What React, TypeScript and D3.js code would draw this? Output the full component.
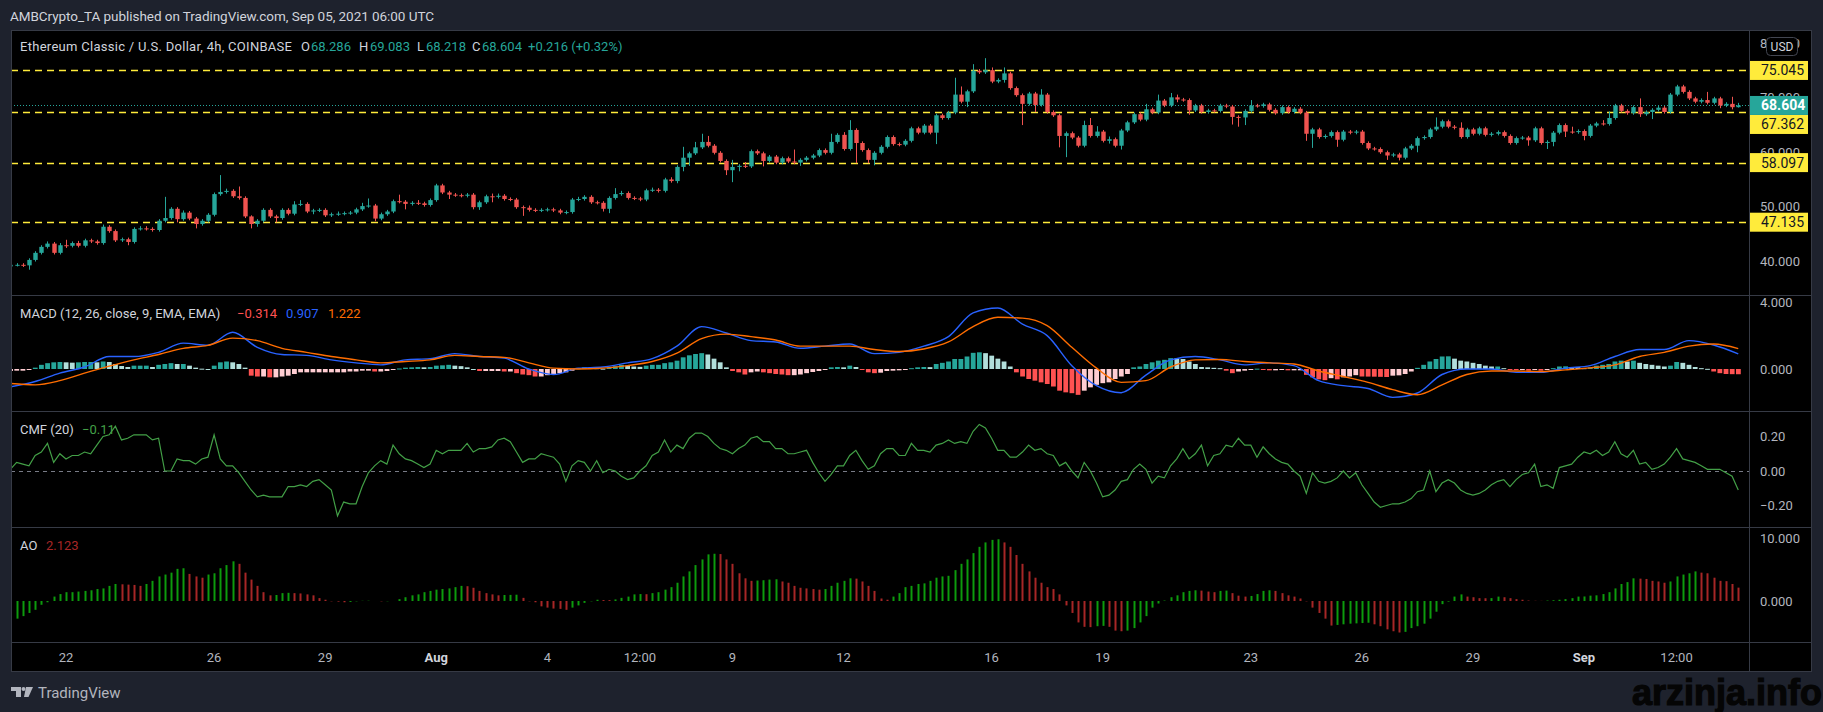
import React, { FC, useEffect, useRef } from "react"
import { select, scaleLinear, scaleUtc, line, curveMonotoneX, curveLinear } from "d3"

// ETC/USD 4h candles, first candle Jul 20 2021 12:00 UTC
const startTime = Date.UTC(2021, 6, 20, 12)
const step = 4 * 3600 * 1000
const firstOpen = 39.0

const closes = [
  39.3, 39.3, 39.2, 40.2, 41.5, 42.6, 43.2, 41.5, 42.9, 42.8,
  43.3, 42.8, 43.8, 43.6, 43.3, 46.3, 45.5, 43.8, 44.0, 43.5,
  45.9, 46.0, 45.9, 45.7, 47.4, 47.9, 49.6, 47.7, 48.9, 47.8,
  46.8, 47.4, 48.5, 52.3, 52.7, 52.9, 51.9, 51.6, 48.2, 46.8,
  47.4, 49.4, 48.2, 47.9, 49.4, 48.7, 50.4, 50.5, 49.1, 49.3,
  49.4, 48.4, 48.6, 48.7, 48.8, 48.9, 49.5, 50.1, 50.2, 47.8,
  48.6, 49.1, 51.0, 50.9, 50.5, 50.7, 50.6, 50.3, 51.2, 53.9,
  52.6, 52.2, 52.1, 52.0, 52.2, 49.9, 50.8, 51.9, 51.8, 52.0,
  51.4, 51.3, 49.9, 49.8, 49.4, 49.3, 49.4, 49.5, 49.3, 48.9,
  49.0, 51.3, 51.4, 51.8, 50.8, 50.7, 49.6, 51.6, 52.3, 52.5,
  51.6, 51.5, 51.3, 53.0, 53.1, 52.9, 55.0, 54.7, 57.3, 59.0,
  59.8, 60.9, 61.9, 61.2, 59.9, 58.4, 56.7, 57.3, 57.5, 57.4,
  60.2, 59.8, 58.4, 59.2, 58.1, 58.9, 58.3, 58.1, 58.6, 59.0,
  59.4, 60.4, 59.9, 61.9, 63.2, 60.6, 64.1, 61.7, 60.4, 58.6,
  59.9, 61.0, 62.8, 61.5, 61.4, 62.1, 64.4, 63.6, 64.9, 63.6,
  66.8, 66.3, 67.3, 70.6, 69.3, 71.2, 75.0, 74.7, 75.1, 73.0,
  73.3, 74.5, 71.8, 70.5, 68.9, 70.8, 68.7, 70.6, 67.4, 66.8,
  63.0, 63.5, 62.7, 61.2, 65.0, 63.0, 63.8, 62.1, 62.4, 61.2,
  64.0, 65.5, 67.0, 66.0, 67.9, 67.3, 69.5, 68.6, 70.1, 69.7,
  69.6, 67.7, 68.6, 67.4, 67.7, 67.6, 68.6, 68.4, 66.5, 66.4,
  67.6, 68.6, 68.5, 68.8, 67.8, 67.2, 68.3, 67.4, 68.0, 67.3,
  63.4, 64.2, 62.8, 63.0, 63.7, 62.3, 63.8, 63.6, 63.8, 61.7,
  60.7, 60.6, 60.0, 59.4, 59.6, 59.0, 60.7, 61.2, 62.6, 62.8,
  64.2, 64.7, 65.7, 64.7, 64.5, 62.8, 64.2, 63.4, 64.4, 63.2,
  63.4, 63.7, 63.0, 61.7, 62.6, 62.7, 62.2, 64.4, 61.7, 61.9,
  63.6, 65.0, 63.8, 63.7, 63.9, 63.0, 64.9, 65.3, 65.2, 66.3,
  68.6, 67.6, 67.2, 68.3, 67.0, 67.4, 67.8, 68.2, 67.4, 70.6,
  72.1, 71.1, 69.9, 69.3, 69.6, 69.1, 69.9, 68.6, 68.9, 68.286,
  68.604,
]

// wick length above the body / below the body, in USD
const upWick = [
  .3, .3, .3, .3, .3, .3, .4, .3, .4, 1.0,
  .3, .4, .3, .3, .3, .4, .3, .3, .3, .3,
  .3, .4, .4, .3, .3, 3.9, .3, .3, .4, .3,
  .3, .3, .3, .3, 3.1, .4, .3, 1.8, .3, .2,
  .3, .3, .3, .3, .3, .3, .6, .7, .3, .3,
  .3, .3, .3, .4, .3, .3, .3, .6, 1.3, .3,
  .3, .3, .3, 1.2, .3, .3, .5, .3, .3, .3,
  .3, .3, .3, .3, .3, .3, .3, .3, .5, .4,
  .3, .3, .3, .3, .4, .3, .3, .3, .3, .3,
  .3, .3, .4, .3, .3, .3, .3, .3, 1.1, .4,
  .3, .3, .3, .3, .4, .3, .3, .4, .3, 2.0,
  .3, 1.0, 1.5, 1.1, .3, .3, .3, 1.3, .3, .7,
  .3, .3, .3, .3, .3, .3, .3, 2.2, .3, .3,
  .3, .3, .3, 1.5, .3, .5, 1.8, .3, .3, .3,
  .3, .3, .3, .3, .3, .3, .3, .3, .3, .3,
  .3, .3, .3, 3.1, 1.5, .3, 1.2, .3, 2.2, .5,
  .3, 1.1, .3, .3, .3, .3, .3, 1.0, .3, .3,
  .3, .3, .3, .3, .8, 1.3, 1.0, .3, .5, .3,
  .3, .3, .3, .3, 1.0, .3, 1.1, .3, .8, .5,
  .3, .3, .3, .3, .3, .3, .3, .3, .3, .3,
  .3, 1.0, .3, .3, .3, .3, .3, .3, .3, .3,
  .3, .3, .3, .3, .3, .3, .3, .3, .3, .3,
  .3, .3, .3, .3, .3, .3, .3, .3, .3, .3,
  .3, 1.7, .3, .3, .3, 1.0, .3, .3, .3, .3,
  .3, .3, .3, .3, .3, .3, .3, .3, .3, .3,
  .3, .3, .3, .9, .3, .3, .3, .3, .6, 1.2,
  .3, .3, .3, .3, 1.6, .3, .3, .3, .3, .3,
  .3, .3, .3, .3, .3, 1.5, .3, .3, .3, 1.3,
  .48,
]

const downWick = [
  .3, .3, .3, .8, .3, .3, .3, .3, .3, .4,
  .3, .3, .3, .3, .3, .3, .3, .3, .3, .6,
  .3, .3, .3, .3, .3, .3, .3, .6, .3, .3,
  .8, .3, .3, .3, .3, .3, .3, .3, .3, .8,
  .5, .3, .3, .8, .3, .3, .3, .3, .3, .5,
  .3, .3, .3, .3, .3, .3, .3, .3, .3, .5,
  .3, .3, .3, .3, 1.0, .3, .3, .3, .3, .3,
  .3, .8, .3, .3, .3, .4, .5, .3, 1.0, .3,
  .3, .3, .3, 1.5, .3, .3, .3, .3, .3, .3,
  .3, .3, .3, .3, .3, .3, .5, .8, .3, .3,
  .3, .3, .3, .3, .3, .3, .3, .3, .4, .8,
  1.5, .3, .3, .3, .3, .3, .9, 2.2, .8, .3,
  .3, .3, 1.0, .3, .3, .3, .3, .3, .6, .3,
  .3, .3, .3, .3, .3, .3, .3, 3.7, .3, .6,
  1.0, .3, .3, .3, .3, .3, .3, .3, .3, .3,
  2.1, .3, .3, .3, .3, 1.0, .3, .3, .3, .3,
  .3, .5, .3, .3, 3.9, .3, 1.3, .3, .3, .3,
  2.1, 3.9, .3, .3, .3, .3, .3, .3, .5, .3,
  .7, .3, .3, .3, .3, .3, .3, .3, .3, .5,
  .3, .8, .3, .3, .3, .3, .3, .3, 1.4, 1.7,
  1.4, .3, .3, .3, .3, .3, .3, .3, .3, .3,
  1.3, 2.6, .3, .3, .3, 1.3, .3, .3, .3, .3,
  .3, .3, .3, .8, .3, .5, .3, .3, 1.2, .3,
  .3, .3, .3, .3, .3, .3, .3, .3, .3, .3,
  .3, .3, .3, .3, .3, .3, 1.0, .3, .3, 1.1,
  .8, .3, 1.0, .3, .3, .8, .3, .3, .3, .3,
  .3, .3, .3, .3, .5, .3, 1.3, .3, .3, .3,
  .3, .3, .3, .3, .3, .3, .3, .5, .3, .4,
  .07,
]

// MACD (12, 26, close, 9) histogram, one value per candle
const macdHist = [
  -.12, -.1, -.1, -.05, .08, .25, .35, .4, .42, .4,
  .38, .4, .42, .42, .4, .45, .42, .3, .18, .12,
  .2, .2, .2, .12, .25, .3, .35, .3, .3, .2,
  .08, .02, 0, .2, .4, .45, .4, .3, .08, -.4,
  -.45, -.45, -.5, -.5, -.45, -.4, -.3, -.2, -.2, -.2,
  -.2, -.2, -.2, -.2, -.2, -.15, -.15, -.1, -.1, -.15,
  -.15, -.12, -.05, .03, .08, .1, .12, .1, .12, .2,
  .22, .25, .2, .17, .1, 0, -.12, -.12, -.12, -.12,
  -.15, -.15, -.25, -.33, -.37, -.45, -.45, -.37, -.3, -.25,
  -.2, -.1, .05, .1, .08, .05, .02, .1, .17, .25,
  .2, .15, .13, .2, .25, .25, .35, .4, .5, .7,
  .82, .9, .95, .87, .62, .4, .1, -.12, -.2, -.33,
  -.2, -.15, -.2, -.25, -.3, -.33, -.37, -.37, -.33, -.25,
  -.18, -.12, -.05, .1, .12, .1, .2, .12, -.05, -.2,
  -.25, -.22, -.12, -.1, -.08, -.03, .05, .1, .12, .11,
  .3, .37, .45, .6, .6, .75, .97, 1.0, .95, .8,
  .62, .45, .15, -.2, -.45, -.6, -.7, -.8, -.9, -1.05,
  -1.3, -1.4, -1.45, -1.55, -1.3, -1.1, -.95, -.85, -.8, -.6,
  -.45, -.3, .1, .15, .3, .4, .5, .55, .65, .64,
  .6, .45, .3, .12, .1, .07, .05, -.1, -.25, -.15,
  -.1, -.05, .02, -.05, -.08, -.08, -.05, -.08, -.08, -.08,
  -.35, -.5, -.62, -.67, -.55, -.62, -.5, -.45, -.37, -.45,
  -.455, -.46, -.47, -.48, -.4, -.38, -.3, -.15, .07, .25,
  .45, .6, .75, .76, .62, .5, .45, .37, .3, .2,
  .15, .15, .05, -.05, -.06, -.06, -.1, -.02, -.1, -.05,
  .05, .15, .16, .12, .11, .05, .1, .2, .25, .3,
  .45, .5, .45, .5, .37, .3, .25, .2, .15, .2,
  .42, .37, .25, .12, .05, .01, -.15, -.25, -.3, -.31,
  -.314,
]

// MACD and signal lines, read every 4th candle (0, 4, ... 280)
const macdEvery = 4
const macdLine = [
  -1.07, -.75, -.25, .12, .75, .75, 1.0, 1.55, 1.42, 2.2,
  1.3, .87, .82, .55, .37, .25, .55, .62, .92, .75,
  .65, 0, -.33, .05, .12, .37, .62, 1.37, 2.54, 2.16,
  1.7, 1.62, 1.24, 1.37, 1.5, .92, 1.0, 1.37, 1.94, 3.36,
  3.66, 2.69, 2.0, .2, -1.0, -1.42, -.37, .55, .75, .55,
  .25, .37, .2, -.7, -1.0, -1.17, -1.7, -1.44, -.33, 0,
  0, -.2, -.2, .05, .2, .75, 1.17, 1.17, 1.7, 1.44,
  .907,
]
const signalLine = [
  -.87, -.95, -.7, -.25, .17, .55, .87, 1.24, 1.42, 1.85,
  1.7, 1.24, 1.0, .75, .55, .37, .45, .55, .82, .75,
  .7, .37, .05, 0, .05, .2, .45, .95, 1.82, 2.09,
  1.94, 1.74, 1.37, 1.37, 1.37, 1.17, 1.05, 1.2, 1.62, 2.54,
  3.1, 3.05, 2.6, 1.3, .05, -.8, -.7, .12, .55, .57,
  .45, .37, .3, -.12, -.45, -.8, -1.24, -1.54, -.95, -.33,
  -.12, -.12, -.15, -.05, .07, .25, .75, 1.0, 1.37, 1.5,
  1.222,
]

// CMF (20), one value per candle
const cmf = [
  .01, .05, .04, .03, .09, .11, .16, .05, .10, .07,
  .09, .09, .11, .10, .15, .20, .21, .26, .18, .19,
  .21, .21, .21, .18, .19, .00, .00, .07, .06, .06,
  .04, .07, .08, .21, .07, .03, .03, -.01, -.06, -.11,
  -.15, -.14, -.15, -.15, -.15, -.09, -.09, -.08, -.09, -.06,
  -.05, -.08, -.11, -.26, -.18, -.19, -.19, -.09, -.01, .03,
  .06, .04, .15, .10, .07, .06, .04, .02, .04, .12,
  .10, .12, .12, .12, .16, .11, .13, .13, .14, .18,
  .19, .17, .11, .05, .07, .07, .10, .09, .08, .04,
  -.06, .03, .06, .05, .00, .06, -.01, .01, .00, -.03,
  -.05, -.04, .00, .03, .09, .11, .18, .11, .15, .13,
  .19, .22, .22, .20, .16, .13, .12, .10, .13, .15,
  .19, .20, .17, .17, .13, .13, .10, .10, .11, .12,
  .05, -.01, -.06, -.02, .03, .03, .09, .12, .06, .01,
  .03, .10, .13, .13, .09, .09, .16, .12, .12, .11,
  .15, .16, .18, .16, .17, .16, .23, .27, .25, .19,
  .12, .12, .08, .08, .11, .15, .12, .13, .10, .09,
  .03, .05, .00, -.04, .05, .00, -.07, -.15, -.14, -.11,
  -.06, -.05, .01, .04, .01, -.07, -.03, -.04, .03, .07,
  .13, .07, .10, .15, .03, .09, .10, .15, .14, .19,
  .15, .15, .08, .14, .10, .07, .05, .04, .00, -.03,
  -.13, -.01, -.06, -.07, -.06, -.04, .00, -.04, -.01, -.08,
  -.13, -.18, -.21, -.20, -.19, -.19, -.18, -.16, -.12, -.11,
  .00, -.12, -.07, -.05, -.07, -.11, -.13, -.14, -.13, -.11,
  -.08, -.06, -.05, -.09, -.05, -.02, -.01, .04, -.09, -.08,
  -.10, .02, .03, .04, .08, .11, .10, .12, .09, .11,
  .17, .10, .08, .12, .04, .05, .01, .02, .04, .08,
  .13, .07, .06, .05, .03, .01, .01, .01, -.01, -.03,
  -.11,
]

// Awesome Oscillator, one value per candle
const ao = [
  -2.8, -2.8, -2.4, -1.9, -1.4, -.6, -.2, .7, 1.1, 1.4,
  1.4, 1.5, 1.6, 1.7, 1.9, 2.0, 2.4, 2.7, 2.65, 2.6,
  2.55, 2.4, 2.7, 3.2, 3.9, 4.2, 4.5, 5.1, 5.2, 4.3,
  3.9, 3.7, 4.2, 4.4, 5.2, 5.7, 6.3, 5.9, 4.5, 3.4,
  2.4, 1.4, .9, .95, 1.25, 1.3, 1.25, 1.2, 1.05, .9,
  .46, .2, -.05, -.1, -.2, -.15, -.05, .03, .04, 0,
  -.05, -.04, 0, .3, .6, .9, 1.05, 1.4, 1.6, 1.8,
  1.9, 2.0, 2.2, 2.4, 2.35, 2.1, 1.6, 1.25, 1.05, .9,
  .95, .97, 1.0, .5, -.05, -.2, -.85, -1.05, -1.2, -1.25,
  -1.4, -1.05, -.7, -.3, -.05, .2, .15, .14, .25, .5,
  .7, 1.05, 1.1, 1.08, 1.25, 1.4, 1.8, 2.2, 2.9, 3.9,
  4.7, 5.7, 6.6, 7.4, 7.5, 7.45, 6.6, 5.9, 4.4, 3.6,
  3.2, 3.25, 3.3, 3.4, 3.45, 3.1, 2.9, 2.4, 2.1, 2.0,
  1.9, 1.8, 1.9, 2.4, 2.9, 3.2, 3.6, 3.55, 3.1, 2.4,
  1.6, .4, .2, .7, 1.25, 2.2, 2.4, 2.7, 2.8, 3.2,
  3.7, 3.9, 4.0, 4.9, 5.9, 6.6, 7.6, 8.6, 9.3, 9.7,
  9.8, 9.3, 8.6, 7.3, 5.9, 4.7, 3.7, 2.9, 2.2, 1.9,
  1.05, -.7, -1.9, -3.4, -4.1, -4.15, -4.0, -3.95, -4.1, -4.7,
  -4.8, -4.7, -4.3, -3.4, -2.4, -1.05, -.4, .07, .6, .9,
  1.4, 1.6, 1.7, 1.65, 1.5, 1.4, 1.6, 1.65, 1.25, .85,
  .7, .8, 1.1, 1.6, 1.7, 1.6, 1.25, .9, .7, .4,
  -.05, -1.05, -1.9, -2.8, -3.9, -3.8, -3.7, -3.6, -3.55, -3.5,
  -3.45, -3.7, -4.0, -4.5, -4.8, -5.0, -4.9, -4.3, -4.0, -3.6,
  -2.8, -1.7, -.5, -.1, .7, 1.05, .7, .6, .45, .44,
  .46, .7, .6, .45, .3, .2, .07, .03, .02, .07,
  .12, .2, .3, .45, .7, .72, .85, .9, 1.1, 1.4,
  2.0, 2.7, 3.0, 3.6, 3.55, 3.5, 3.2, 3.1, 2.9, 3.1,
  3.9, 4.2, 4.4, 4.7, 4.5, 4.4, 3.7, 3.2, 3.15, 2.7,
  2.123,
]

// horizontal levels drawn on the chart
const levels = [75.045, 67.362, 58.097, 47.135]
const lastPrice = 68.604

const priceTicks = [40, 50, 60, 70, 80]
const macdTicks = [0, 4]
const cmfTicks = [-0.2, 0, 0.2]
const aoTicks = [0, 10]

const timeTicks = [
  Date.UTC(2021, 6, 22), Date.UTC(2021, 6, 26), Date.UTC(2021, 6, 29),
  Date.UTC(2021, 7, 1), Date.UTC(2021, 7, 4), Date.UTC(2021, 7, 6, 12),
  Date.UTC(2021, 7, 9), Date.UTC(2021, 7, 12), Date.UTC(2021, 7, 16),
  Date.UTC(2021, 7, 19), Date.UTC(2021, 7, 23), Date.UTC(2021, 7, 26),
  Date.UTC(2021, 7, 29), Date.UTC(2021, 8, 1), Date.UTC(2021, 8, 3, 12),
]
const timeLabels = ["22", "26", "29", "Aug", "4", "12:00", "9", "12", "16", "19", "23", "26", "29", "Sep", "12:00"]
const boldLabels = ["Aug", "Sep"]

const fmt = (v: number, d: number) => (v < 0 ? "\u2212" : "") + Math.abs(v).toFixed(d)

const drawChart = (el: HTMLDivElement) => {
  // dimensions
  const width = 1823
  const height = 712
  const frame = { left: 11, right: 1812, top: 30, bottom: 672 }
  const axisX = 1749
  const panes = [
    { id: "price", top: 30, bottom: 295 },
    { id: "macd", top: 295, bottom: 411 },
    { id: "cmf", top: 411, bottom: 527 },
    { id: "ao", top: 527, bottom: 642 },
  ]
  const font = "Roboto, 'Liberation Sans', Arial, sans-serif"
  const textColor = "#d1d4dc"
  const axisText = "#b2b5be"
  const gridLine = "#363a45"

  select(el).selectAll("*").remove()
  const svg = select(el)
    .append("svg")
    .attr("width", width)
    .attr("height", height)
    .style("display", "block")
    .style("font-family", font)

  svg.append("rect").attr("width", width).attr("height", height).attr("fill", "#1e222d")
  svg
    .append("rect")
    .attr("x", frame.left)
    .attr("y", frame.top)
    .attr("width", frame.right - frame.left)
    .attr("height", frame.bottom - frame.top)
    .attr("fill", "#000")

  const defs = svg.append("defs")
  panes.forEach((p) => {
    defs
      .append("clipPath")
      .attr("id", `clip-${p.id}`)
      .append("rect")
      .attr("x", frame.left)
      .attr("y", p.top)
      .attr("width", axisX - frame.left)
      .attr("height", p.bottom - p.top)
  })

  // scales
  const xScale = scaleUtc()
    .domain([new Date(Date.UTC(2021, 6, 22)), new Date(Date.UTC(2021, 8, 1))])
    .range([66, 1584])
  const xAt = (i: number) => xScale(new Date(startTime + i * step))
  const yPrice = scaleLinear().domain([40, 80]).range([261, 43.5])
  const yMacd = scaleLinear().domain([0, 4]).range([369, 302.3])
  const yCmf = scaleLinear().domain([-0.2, 0.2]).range([505.5, 436.5])
  const yAo = scaleLinear().domain([0, 10]).range([601, 538])

  // price pane
  const price = svg.append("g").attr("clip-path", "url(#clip-price)")

  levels.forEach((lv) => {
    price
      .append("line")
      .attr("x1", frame.left)
      .attr("x2", axisX)
      .attr("y1", Math.round(yPrice(lv)) + 0.5)
      .attr("y2", Math.round(yPrice(lv)) + 0.5)
      .attr("stroke", "#ffeb3b")
      .attr("stroke-width", 1.3)
      .attr("stroke-dasharray", "7 5")
  })
  price
    .append("line")
    .attr("x1", frame.left)
    .attr("x2", axisX)
    .attr("y1", Math.round(yPrice(lastPrice)) + 0.5)
    .attr("y2", Math.round(yPrice(lastPrice)) + 0.5)
    .attr("stroke", "#26a69a")
    .attr("stroke-width", 1)
    .attr("stroke-dasharray", "1 2")

  closes.forEach((c, i) => {
    const o = i === 0 ? firstOpen : closes[i - 1]
    const hi = Math.max(o, c) + upWick[i]
    const lo = Math.min(o, c) - downWick[i]
    const color = c >= o ? "#26a69a" : "#ef5350"
    const cx = Math.round(xAt(i))
    price
      .append("line")
      .attr("x1", cx + 0.5)
      .attr("x2", cx + 0.5)
      .attr("y1", yPrice(hi))
      .attr("y2", yPrice(lo))
      .attr("stroke", color)
      .attr("stroke-width", 1)
    const top = yPrice(Math.max(o, c))
    const h = Math.max(1, yPrice(Math.min(o, c)) - top)
    price
      .append("rect")
      .attr("x", cx - 1.7)
      .attr("y", top)
      .attr("width", 4.4)
      .attr("height", h)
      .attr("fill", color)
  })

  // macd pane
  const macd = svg.append("g").attr("clip-path", "url(#clip-macd)")
  macdHist.forEach((v, i) => {
    const prev = i === 0 ? v : macdHist[i - 1]
    const color = v >= 0 ? (v >= prev ? "#26a69a" : "#b2dfdb") : v < prev ? "#ff5252" : "#ffcdd2"
    const y0 = yMacd(0)
    const y1 = yMacd(v)
    macd
      .append("rect")
      .attr("x", xAt(i) - 2.3)
      .attr("y", Math.min(y0, y1))
      .attr("width", 4.8)
      .attr("height", Math.max(1, Math.abs(y1 - y0)))
      .attr("fill", color)
  })
  const macdGen = line<number>()
    .x((_, k) => xAt(k * macdEvery))
    .y((d) => yMacd(d))
    .curve(curveMonotoneX)
  macd
    .append("path")
    .attr("d", macdGen(macdLine))
    .attr("fill", "none")
    .attr("stroke", "#2962ff")
    .attr("stroke-width", 1.4)
  macd
    .append("path")
    .attr("d", macdGen(signalLine))
    .attr("fill", "none")
    .attr("stroke", "#ff6d00")
    .attr("stroke-width", 1.4)

  // cmf pane
  const cmfG = svg.append("g").attr("clip-path", "url(#clip-cmf)")
  cmfG
    .append("line")
    .attr("x1", frame.left)
    .attr("x2", axisX)
    .attr("y1", Math.round(yCmf(0)) + 0.5)
    .attr("y2", Math.round(yCmf(0)) + 0.5)
    .attr("stroke", "#787b86")
    .attr("stroke-width", 1)
    .attr("stroke-dasharray", "4 4")
  const cmfGen = line<number>()
    .x((_, i) => xAt(i))
    .y((d) => yCmf(d))
    .curve(curveLinear)
  cmfG
    .append("path")
    .attr("d", cmfGen(cmf))
    .attr("fill", "none")
    .attr("stroke", "#43a047")
    .attr("stroke-width", 1.2)

  // ao pane
  const aoG = svg.append("g").attr("clip-path", "url(#clip-ao)")
  ao.forEach((v, i) => {
    const prev = i === 0 ? v + 1 : ao[i - 1]
    const cx = Math.round(xAt(i)) + 0.5
    aoG
      .append("line")
      .attr("x1", cx)
      .attr("x2", cx)
      .attr("y1", yAo(0))
      .attr("y2", yAo(v))
      .attr("stroke", v >= prev ? "#0d9b0d" : "#a62626")
      .attr("stroke-width", 2)
  })

  // separators and frame
  const sep = svg.append("g").attr("stroke", gridLine).attr("stroke-width", 1)
  ;[295, 411, 527, 642].forEach((y) => {
    sep.append("line").attr("x1", frame.left).attr("x2", frame.right).attr("y1", y + 0.5).attr("y2", y + 0.5)
  })
  sep.append("line").attr("x1", axisX + 0.5).attr("x2", axisX + 0.5).attr("y1", frame.top).attr("y2", frame.bottom)
  sep
    .append("rect")
    .attr("x", frame.left + 0.5)
    .attr("y", frame.top + 0.5)
    .attr("width", frame.right - frame.left - 1)
    .attr("height", frame.bottom - frame.top - 1)
    .attr("fill", "none")

  // right axis labels
  const axisG = svg.append("g").attr("font-size", 13).attr("fill", axisText)
  priceTicks.forEach((v) => {
    axisG.append("text").attr("x", 1760).attr("y", yPrice(v) + 4.5).text(v.toFixed(3))
  })
  macdTicks.forEach((v) => {
    axisG.append("text").attr("x", 1760).attr("y", yMacd(v) + 4.5).text(v.toFixed(3))
  })
  cmfTicks.forEach((v) => {
    axisG.append("text").attr("x", 1760).attr("y", yCmf(v) + 4.5).text(fmt(v, 2))
  })
  aoTicks.forEach((v) => {
    axisG.append("text").attr("x", 1760).attr("y", yAo(v) + 4.5).text(v.toFixed(3))
  })

  // price labels on the axis (current price keeps its place, levels move aside)
  const curY = yPrice(lastPrice)
  const boxH = 19
  const tags = levels.map((lv) => {
    let y = yPrice(lv)
    if (Math.abs(y - curY) < boxH) y = y >= curY ? curY + boxH : curY - boxH
    return { text: lv.toFixed(3), y, fill: "#ffeb3b", color: "#131722", weight: 400 }
  })
  tags.push({ text: lastPrice.toFixed(3), y: curY, fill: "#26a69a", color: "#ffffff", weight: 700 })
  tags.forEach((t) => {
    svg
      .append("rect")
      .attr("x", axisX + 1)
      .attr("y", t.y - boxH / 2)
      .attr("width", 58)
      .attr("height", boxH)
      .attr("fill", t.fill)
    svg
      .append("text")
      .attr("x", 1761)
      .attr("y", t.y + 5)
      .attr("font-size", 14)
      .attr("font-weight", t.weight)
      .attr("fill", t.color)
      .text(t.text)
  })

  // USD button
  svg
    .append("rect")
    .attr("x", 1766.5)
    .attr("y", 37.5)
    .attr("width", 31)
    .attr("height", 18)
    .attr("rx", 4)
    .attr("fill", "#000")
    .attr("stroke", "#434651")
  svg
    .append("text")
    .attr("x", 1782)
    .attr("y", 51)
    .attr("text-anchor", "middle")
    .attr("font-size", 12)
    .attr("fill", textColor)
    .text("USD")

  // time axis
  const timeG = svg.append("g").attr("font-size", 13).attr("text-anchor", "middle")
  timeTicks.forEach((t, k) => {
    const bold = boldLabels.includes(timeLabels[k])
    timeG
      .append("text")
      .attr("x", xScale(new Date(t)))
      .attr("y", 662)
      .attr("fill", bold ? textColor : axisText)
      .attr("font-weight", bold ? 700 : 400)
      .text(timeLabels[k])
  })

  // legends
  const legend = (x: number, y: number, txt: string, color: string) =>
    svg.append("text").attr("x", x).attr("y", y).attr("font-size", 13).attr("fill", color).text(txt)
  const teal = "#26a69a"
  legend(20, 51, "Ethereum Classic / U.S. Dollar, 4h, COINBASE", textColor)
    .attr("textLength", 272)
    .attr("lengthAdjust", "spacing")
  legend(301, 51, "O", textColor)
  legend(311, 51, "68.286", teal)
  legend(359, 51, "H", textColor)
  legend(370, 51, "69.083", teal)
  legend(417, 51, "L", textColor)
  legend(426, 51, "68.218", teal)
  legend(472, 51, "C", textColor)
  legend(482, 51, "68.604", teal)
  legend(528, 51, "+0.216 (+0.32%)", teal)

  legend(20, 318, "MACD (12, 26, close, 9, EMA, EMA)", textColor)
  legend(237, 318, fmt(macdHist[macdHist.length - 1], 3), "#ff5252")
  legend(286, 318, fmt(macdLine[macdLine.length - 1], 3), "#2962ff")
  legend(328, 318, fmt(signalLine[signalLine.length - 1], 3), "#ff6d00")

  legend(20, 434, "CMF (20)", textColor)
  legend(82, 434, fmt(cmf[cmf.length - 1], 2), "#43a047")

  legend(20, 550, "AO", textColor)
  legend(46, 550, fmt(ao[ao.length - 1], 3), "#a62626")

  // header
  svg
    .append("text")
    .attr("x", 10)
    .attr("y", 21)
    .attr("font-size", 13.5)
    .attr("fill", textColor)
    .attr("textLength", 424)
    .attr("lengthAdjust", "spacing")
    .text("AMBCrypto_TA published on TradingView.com, Sep 05, 2021 06:00 UTC")

  // footer logo
  const logo = svg.append("g").attr("fill", axisText)
  logo.append("path").attr("d", "M11 687 H21 V697 H16 V691 H11 Z")
  logo.append("circle").attr("cx", 23.5).attr("cy", 689).attr("r", 2)
  logo.append("path").attr("d", "M26 687 H33 L28.5 697 H24 Z")
  svg
    .append("text")
    .attr("x", 38)
    .attr("y", 698)
    .attr("font-size", 15)
    .attr("fill", axisText)
    .text("TradingView")

  // watermark
  svg
    .append("text")
    .attr("x", 1632)
    .attr("y", 705)
    .attr("font-family", "'Liberation Sans', Arial, sans-serif")
    .attr("font-weight", 700)
    .attr("font-size", 36)
    .attr("fill", "#050505")
    .attr("stroke", "#050505")
    .attr("stroke-width", 1.2)
    .text("arzinja.info")
}

const App: FC = () => {
  const wrapperRef = useRef<HTMLDivElement>(null)

  useEffect(() => {
    if (wrapperRef.current) drawChart(wrapperRef.current)
  }, [])

  return <div ref={wrapperRef} style={{ position: "absolute", left: 0, top: 0 }} />
}

export default App
